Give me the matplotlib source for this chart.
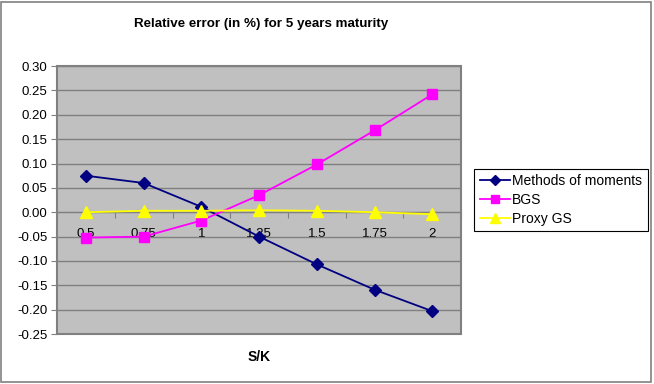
import matplotlib
matplotlib.use("Agg")
import matplotlib.pyplot as plt
from matplotlib.patches import Rectangle
import numpy as np

# S/K categories and relative errors (in %) for 5 years maturity
sk_labels = ["0.5", "0.75", "1", "1.25", "1.5", "1.75", "2"]
moments = [0.075, 0.060, 0.011, -0.050, -0.107, -0.159, -0.203]
bgs = [-0.052, -0.050, -0.017, 0.035, 0.098, 0.168, 0.242]
proxy_gs = [0.000, 0.003, 0.003, 0.004, 0.003, 0.000, -0.004]
y_ticks = np.round(np.arange(-0.25, 0.301, 0.05), 2)

plt.rcParams["font.family"] = ["Liberation Sans", "DejaVu Sans"]

fig = plt.figure(figsize=(6.54, 3.84), dpi=100)
ax = fig.add_axes([0.0872, 0.130, 0.618, 0.698])
x = np.arange(len(sk_labels))

ax.set_facecolor("#C0C0C0")
ax.patch.set_edgecolor("#808080")
ax.patch.set_linewidth(1.5)
for side in ("top", "right", "left"):
    ax.spines[side].set_visible(False)
ax.spines["bottom"].set_position(("data", 0))
ax.spines["bottom"].set_color("#808080")
ax.spines["bottom"].set_zorder(1)

ax.grid(axis="y", color="#808080", lw=1.0, zorder=0)
ax.set_axisbelow(True)

ax.plot(x, moments, color="#000080", marker="D", ms=6, lw=1.3, label="Methods of moments", zorder=3)
ax.plot(x, bgs, color="#FF00FF", marker="s", ms=7, lw=1.3, label="BGS", zorder=3)
ax.plot(x, proxy_gs, color="#FFFF00", marker="^", ms=8, lw=1.3, label="Proxy GS", zorder=3)

ax.set_xlim(-0.5, len(sk_labels) - 0.5)
ax.set_ylim(-0.25, 0.30)
ax.set_yticks(y_ticks)
ax.set_yticklabels([f"{v + 0.0:.2f}" for v in y_ticks], fontsize=9.5)
ax.tick_params(axis="y", length=4, color="#808080", pad=3)

# category boundaries as ticks on the zero line, labels at the centres
ax.set_xticks(np.arange(-0.5, len(sk_labels), 1.0))
ax.set_xticklabels([])
ax.tick_params(axis="x", which="major", length=4, direction="out", color="#808080")
ax.set_xticks(x, minor=True)
ax.set_xticklabels(sk_labels, minor=True, fontsize=9.5)
ax.tick_params(axis="x", which="minor", length=0, pad=11)

fig.text(0.399, 0.938, "Relative error (in %) for 5 years maturity",
         ha="center", va="center", fontsize=9.6, fontweight="bold")
fig.text(0.397, 0.070, "S/K", ha="center", va="center", fontsize=10, fontweight="bold")

leg = fig.legend(loc="center left", bbox_to_anchor=(0.725, 0.479), fontsize=10,
                 fancybox=False, edgecolor="black", framealpha=1, borderpad=0.4,
                 handlelength=2.2, handletextpad=0.15, labelspacing=0.35, borderaxespad=0,
                 markerscale=0.85)
leg.get_frame().set_linewidth(0.8)

fig.patches.append(Rectangle((0.002, 0.006), 0.994, 0.99, transform=fig.transFigure,
                             fill=False, edgecolor="#808080", lw=1.2))

fig.savefig("out.png", dpi=100)
